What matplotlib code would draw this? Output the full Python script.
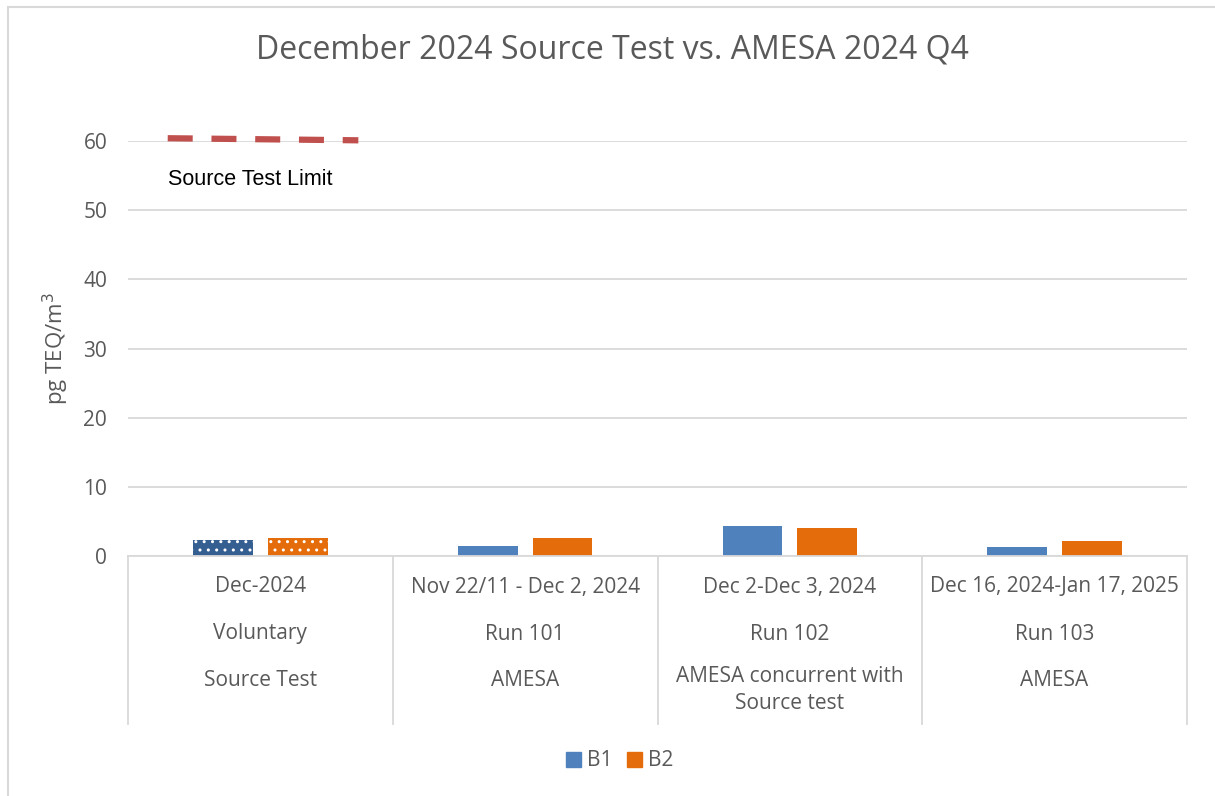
import matplotlib
matplotlib.use("Agg")
import matplotlib.pyplot as plt
import matplotlib.patches as mpatches
import numpy as np

plt.rcParams['font.family'] = ['Open Sans', 'DejaVu Sans']
plt.rcParams['hatch.linewidth'] = 1.0

# data
dates = ["Dec-2024", "Nov 22/11 - Dec 2, 2024", "Dec 2-Dec 3, 2024", "Dec 16, 2024-Jan 17, 2025"]
runs = ["Voluntary", "Run 101", "Run 102", "Run 103"]
kinds = ["Source Test", "AMESA", "AMESA concurrent with\nSource test", "AMESA"]
b1 = [2.3, 1.45, 4.4, 1.3]
b2 = [2.6, 2.6, 4.0, 2.2]
limit_x = [-0.35, 0.37]
limit_y = [60.4, 60.1]
yticks = [0, 10, 20, 30, 40, 50, 60]

GREY = '#595959'
BLUE = '#4F81BD'
DARK_BLUE = '#365F91'
ORANGE = '#E46C0A'
FS = 15

W, H = 1215, 796
fig = plt.figure(figsize=(W / 100, H / 100), dpi=100)

# chart border (only top and left are inside the picture)
fig.add_artist(mpatches.Rectangle((8 / W, -0.1), 1.2, 1 - 7 / H + 0.1, transform=fig.transFigure,
                                  fill=False, edgecolor='#D9D9D9', linewidth=1.5))

ax_l, ax_r, ax_t, ax_b = 128, 1187, 141, 556
ax = fig.add_axes([ax_l / W, 1 - ax_b / H, (ax_r - ax_l) / W, (ax_b - ax_t) / H])

x = np.arange(len(dates))
bw = 0.226
off = 0.141

for i in range(len(dates)):
    if i == 0:
        # the source test bars are dotted
        ax.bar(x[i] - off, b1[i], bw, color=DARK_BLUE, edgecolor='white', linewidth=0, hatch='..')
        ax.bar(x[i] + off, b2[i], bw, color=ORANGE, edgecolor='white', linewidth=0, hatch='..')
    else:
        ax.bar(x[i] - off, b1[i], bw, color=BLUE, linewidth=0)
        ax.bar(x[i] + off, b2[i], bw, color=ORANGE, linewidth=0)

ax.plot(limit_x, limit_y, color='#C0504D', linewidth=4.5, dashes=(4.0, 3.0), clip_on=False,
        dash_capstyle='butt', zorder=3)
ax.text(-0.35, 54.5, "Source Test Limit", family='Liberation Sans', fontsize=15.5, color='black',
        ha='left', va='center')

ax.set_xlim(-0.5, len(dates) - 0.5)
ax.set_ylim(0, 60)
ax.set_yticks(yticks)
ax.set_xticks([])
ax.yaxis.grid(True, color='#D9D9D9', linewidth=1.3)
ax.set_axisbelow(True)
for s in ['top', 'right', 'left']:
    ax.spines[s].set_visible(False)
ax.spines['bottom'].set_color('#D9D9D9')
ax.spines['bottom'].set_linewidth(1.3)
ax.tick_params(axis='y', length=0, labelsize=FS, labelcolor=GREY, pad=15)
ax.set_ylabel("pg TEQ/m$^3$", fontsize=16, color=GREY)
ax.yaxis.set_label_coords((71 - ax_l) / (ax_r - ax_l), 0.5)


def ax_frac(ypx):
    return (ax_b - ypx) / (ax_b - ax_t)


# multi-level category labels under the axis
trans = ax.get_xaxis_transform()
for i in range(len(dates)):
    ax.text(x[i], ax_frac(587), dates[i], transform=trans, ha='center', va='center', fontsize=FS, color=GREY)
    ax.text(x[i], ax_frac(634), runs[i], transform=trans, ha='center', va='center', fontsize=FS, color=GREY)
    if '\n' in kinds[i]:
        ax.text(x[i], ax_frac(666), kinds[i], transform=trans, ha='center', va='top', fontsize=FS,
                color=GREY, linespacing=1.4)
    else:
        ax.text(x[i], ax_frac(680), kinds[i], transform=trans, ha='center', va='center', fontsize=FS, color=GREY)
for xb in np.arange(len(dates) + 1) - 0.5:
    ax.plot([xb, xb], [0, ax_frac(724)], transform=trans, color='#D9D9D9', linewidth=1.3, clip_on=False)

fig.text(612 / W, 1 - 50 / H, "December 2024 Source Test vs. AMESA 2024 Q4", ha='center', va='center',
         fontsize=23, color=GREY)

handles = [mpatches.Patch(color=BLUE, label='B1'), mpatches.Patch(color=ORANGE, label='B2')]
fig.legend(handles=handles, loc='center', bbox_to_anchor=(620 / W, 1 - 761 / H), ncol=2, frameon=False,
           fontsize=FS, labelcolor=GREY, handlelength=0.7, handleheight=0.7, handletextpad=0.3,
           columnspacing=0.7)

fig.savefig("out.png", dpi=100)
